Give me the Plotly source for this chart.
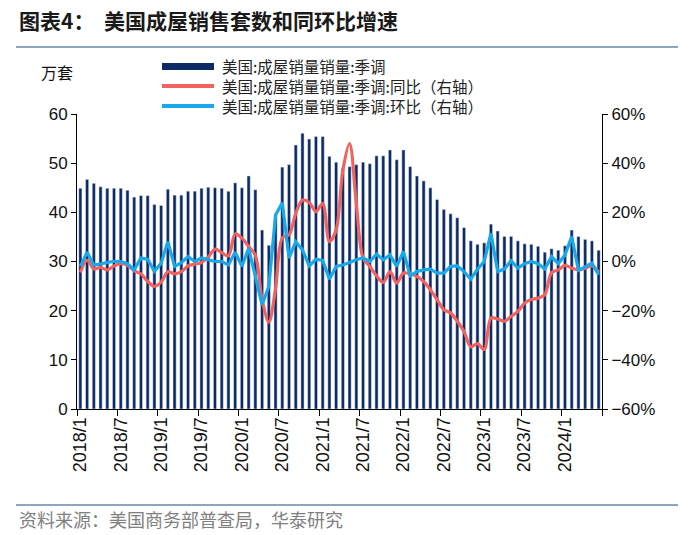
import plotly.graph_objects as go

# ---------------- data ----------------
month_labels = ["2018/1", "2018/7", "2019/1", "2019/7", "2020/1", "2020/7", "2021/1",
                "2021/7", "2022/1", "2022/7", "2023/1", "2023/7", "2024/1"]

sales = [44.9, 46.7, 45.9, 45.2, 44.9, 44.9, 44.9, 44.5, 43.1, 43.4, 43.4, 41.6,
         41.4, 44.7, 43.5, 43.5, 44.3, 44.3, 44.9, 45.1, 45.0, 44.9, 44.3, 46.0,
         45.0, 47.4, 44.6, 36.4, 33.3, 39.5, 49.2, 49.7, 53.7, 56.1, 54.9, 55.4,
         55.4, 51.4, 50.2, 49.0, 49.3, 49.7, 50.2, 49.9, 51.5, 51.5, 52.7, 50.7,
         52.7, 49.3, 47.4, 46.4, 45.0, 42.6, 40.6, 39.7, 38.9, 36.9, 34.2, 33.5,
         33.8, 37.6, 36.2, 35.1, 35.1, 34.2, 33.6, 33.5, 33.1, 31.9, 32.6, 32.3,
         33.2, 36.4, 35.1, 34.5, 34.2, 32.3]

yoy = [-4.5, 0.5, -3.0, -2.4, -3.4, -1.8, -0.9, -1.5, -3.8, -5.0, -8.1, -10.1,
       -8.4, -4.2, -5.0, -4.1, -1.8, -1.1, -0.4, 1.8, 5.0, 3.6, 2.3, 11.2,
       9.5, 6.1, 2.5, -15.5, -24.7, -11.0, 9.6, 10.8, 19.6, 25.0, 24.0, 20.3,
       23.6, 8.1, 12.8, 37.2, 48.0, 23.6, 1.4, -2.0, -5.8, -8.5, -4.1, -8.8,
       -4.7, -5.0, -6.1, -8.1, -11.5, -15.5, -19.6, -20.9, -24.3, -28.5, -34.7, -33.4,
       -35.8, -23.0, -23.4, -24.3, -22.3, -20.3, -16.9, -15.5, -14.9, -13.5, -4.5, -3.4,
       -1.6, -2.7, -3.4, -2.7, -1.8, -4.5]

mom = [-2.0, 3.8, -1.5, -0.9, -0.4, 0.1, 0.0, -0.9, -3.4, 1.4, 0.9, -4.0,
       -0.7, 8.1, -2.0, -0.5, 2.0, 0.0, 1.4, 0.7, 0.0, 0.0, -1.4, 3.8,
       -2.0, 5.4, -6.1, -17.6, -10.1, 18.9, 23.9, 1.4, 8.1, 4.7, -1.8, 0.9,
       0.4, -7.2, -2.0, -1.4, -0.4, 0.7, 1.4, 0.0, 3.0, 0.7, 2.7, -2.0,
       4.1, -5.8, -4.1, -3.4, -3.1, -4.7, -4.7, -2.0, -1.8, -4.1, -7.2, -3.1,
       0.0, 11.5, -4.1, -3.1, 0.3, -2.7, -0.9, 0.0, -0.9, -3.1, 2.0, -0.9,
       2.7, 10.1, -3.6, -2.0, -0.7, -5.4]

names = ["美国:成屋销量销量:季调",
         "美国:成屋销量销量:季调:同比（右轴）",
         "美国:成屋销量销量:季调:环比（右轴）"]

# ---------------- style ----------------
NAVY = "#0E2A66"
RED = "#F2625F"
BLUE = "#19A9E8"
NUMFONT = "Liberation Sans, Arial, sans-serif"
CJK = "Noto Sans CJK SC, sans-serif"

W, H = 700, 535
L, R, T, B = 77, 98, 114, 126
PW, PH = W - L - R, H - T - B


def px(x):
    return (x - L) / PW


def py(y):
    return (H - B - y) / PH


idx = list(range(len(sales)))

fig = go.Figure()
fig.add_trace(go.Bar(x=idx, y=sales, name=names[0], marker_color=NAVY,
                     width=0.47, showlegend=False))
fig.add_trace(go.Scatter(x=idx, y=yoy, name=names[1], yaxis="y2", mode="lines",
                         line=dict(color=RED, width=3.2, shape="spline", smoothing=0.9),
                         showlegend=False))
fig.add_trace(go.Scatter(x=idx, y=mom, name=names[2], yaxis="y2", mode="lines",
                         line=dict(color=BLUE, width=3.2), showlegend=False))

tickvals = [i * 6 for i in range(len(month_labels))]
tf = dict(family=NUMFONT, size=17, color="#111")

fig.update_layout(
    width=W, height=H,
    margin=dict(l=L, r=R, t=T, b=B),
    paper_bgcolor="white", plot_bgcolor="white",
    showlegend=False,
    xaxis=dict(range=[-0.5, len(sales) - 0.5], tickmode="array", tickvals=tickvals,
               ticktext=month_labels, tickangle=-90, ticks="", showgrid=False,
               zeroline=False, showline=True, linecolor="black", linewidth=1,
               tickfont=dict(family=NUMFONT, size=18, color="#111"),
               minor=dict(tickmode="linear", tick0=-0.5, dtick=6, ticks="outside",
                          ticklen=6, tickcolor="black", tickwidth=1, showgrid=False)),
    yaxis=dict(range=[0, 60], dtick=10, ticks="outside", ticklen=5, tickcolor="black",
               showline=True, linecolor="black", linewidth=1, showgrid=False,
               zeroline=False, tickfont=tf),
    yaxis2=dict(range=[-60, 60], dtick=20, ticksuffix="%", overlaying="y", side="right",
                ticks="outside", ticklen=5, tickcolor="black", showline=True,
                linecolor="black", linewidth=1, showgrid=False, zeroline=False,
                tickfont=tf),
)

shapes = []
annotations = []

# title + rule
annotations.append(dict(x=px(17), y=py(20), xref="paper", yref="paper", xanchor="left",
                        yanchor="middle", showarrow=False,
                        text="<b>图表4：  美国成屋销售套数和同环比增速</b>",
                        font=dict(family=CJK, size=21, color="#1a1a1a")))
shapes.append(dict(type="line", xref="paper", yref="paper", x0=px(16), x1=px(678),
                   y0=py(47), y1=py(47), line=dict(color="#8FA5BF", width=2)))

# unit label
annotations.append(dict(x=px(39), y=py(72), xref="paper", yref="paper", xanchor="left",
                        yanchor="middle", showarrow=False, text="万套",
                        font=dict(family=CJK, size=16, color="#111")))

# legend
shapes.append(dict(type="rect", xref="paper", yref="paper", x0=px(162), x1=px(214),
                   y0=py(63), y1=py(70), fillcolor=NAVY, line=dict(width=0)))
shapes.append(dict(type="line", xref="paper", yref="paper", x0=px(162), x1=px(214),
                   y0=py(86), y1=py(86), line=dict(color=RED, width=4)))
shapes.append(dict(type="line", xref="paper", yref="paper", x0=px(162), x1=px(214),
                   y0=py(106), y1=py(106), line=dict(color=BLUE, width=4)))
for name, yy in zip(names, [66, 86, 106]):
    annotations.append(dict(x=px(220), y=py(yy), xref="paper", yref="paper",
                            xanchor="left", yanchor="middle", showarrow=False, text=name,
                            height=18, font=dict(family=CJK, size=15.5, color="#222")))

# footer
shapes.append(dict(type="line", xref="paper", yref="paper", x0=px(16), x1=px(678),
                   y0=py(505), y1=py(505), line=dict(color="#8FA5BF", width=2)))
annotations.append(dict(x=px(17), y=py(519), xref="paper", yref="paper", xanchor="left",
                        yanchor="middle", showarrow=False,
                        text="资料来源：美国商务部普查局，华泰研究",
                        font=dict(family=CJK, size=18, color="#808080")))

fig.update_layout(shapes=shapes, annotations=annotations)
fig.write_html("out.html", config={"displayModeBar": False},
               post_script="document.body.style.margin='0px';document.body.style.overflow='hidden';")
